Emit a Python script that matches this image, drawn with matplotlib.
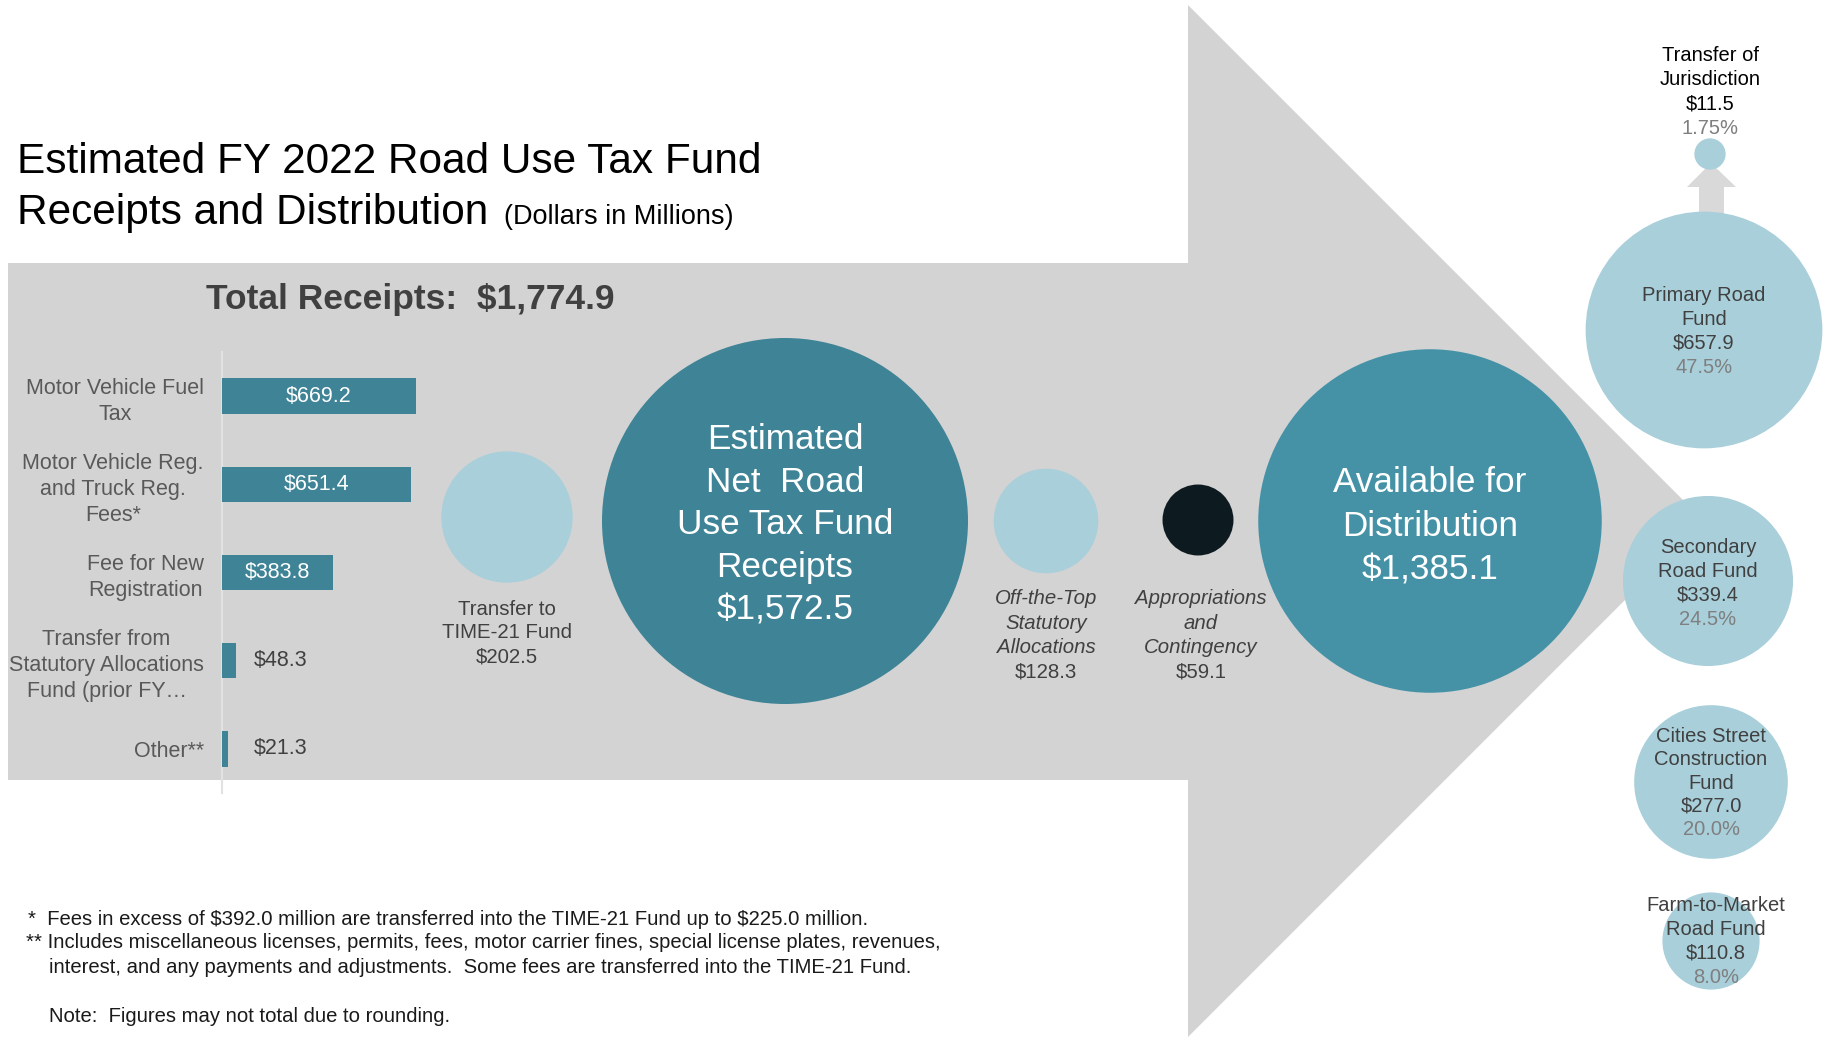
import matplotlib
matplotlib.use("Agg")
import matplotlib.pyplot as plt
from matplotlib.patches import Circle, Polygon
import numpy as np

plt.rcParams["text.parse_math"] = False

# ---------------- data (dollars in millions) ----------------
categories = ["Motor Vehicle Fuel\nTax",
              "Motor Vehicle Reg.\nand Truck Reg.\nFees*",
              "Fee for New\nRegistration",
              "Transfer from\nStatutory Allocations\nFund (prior FY\u2026",
              "Other**"]
receipts = [669.2, 651.4, 383.8, 48.3, 21.3]
total_receipts = 1774.9

time21 = 202.5
net_receipts = 1572.5
off_top = 128.3
approp = 59.1
available = 1385.1

fund_names = ["Primary Road\nFund", "Secondary\nRoad Fund",
              "Cities Street\nConstruction\nFund", "Farm-to-Market\nRoad Fund"]
fund_values = [657.9, 339.4, 277.0, 110.8]
fund_pct = [47.5, 24.5, 20.0, 8.0]
juris_value = 11.5
juris_pct = 1.75

# ---------------- styles ----------------
SANS = "Liberation Sans"

BAR = "#3E8396"
NET = "#3E8396"
AVAIL = "#4592A7"
LIGHT = "#A8CFDA"
DARK = "#0D1A1F"
GRAY = "#D3D3D3"
TXT = "#404040"
PCT = "#7F7F7F"

W, H = 1829, 1037
fig = plt.figure(figsize=(W / 100, H / 100), dpi=100)
ax = fig.add_axes([0, 0, 1, 1])
ax.set_xlim(0, W)
ax.set_ylim(H, 0)
ax.axis("off")

# circle radius ~ sqrt(value), area proportional
k = 183 / np.sqrt(net_receipts)
def rad(v):
    return k * np.sqrt(v)

# big arrow
ax.add_patch(Polygon([(8, 263), (1188, 263), (1188, 5), (1704, 521), (1188, 1037),
                      (1188, 780), (8, 780)], closed=True, fc=GRAY, ec="none", zorder=0))
# small up arrow to transfer of jurisdiction
ax.add_patch(Polygon([(1699, 215), (1699, 187), (1687, 187), (1711, 163), (1736, 187),
                      (1724, 187), (1724, 215)], closed=True, fc="#D9D9D9", ec="none", zorder=1))

def circ(x, y, v, c):
    ax.add_patch(Circle((x, y), rad(v), fc=c, ec="none", zorder=2))

circ(507, 517, time21, LIGHT)
circ(785, 521, net_receipts, NET)
circ(1046, 521, off_top, LIGHT)
circ(1198, 520, approp, DARK)
circ(1430, 521, available, AVAIL)
fund_xy = [(1704, 330), (1708, 581), (1711, 782), (1711, 941)]
for (x, y), v in zip(fund_xy, fund_values):
    circ(x, y, v, LIGHT)
circ(1710, 154, juris_value, LIGHT)

def stack(x, y0, lines, gap, size):
    for i, (s, c, st) in enumerate(lines):
        ax.text(x, y0 + i * gap, s, color=c, style=st, ha="center", va="baseline",
                fontsize=size, family=SANS, zorder=5)

def money(v):
    return "${:,.1f}".format(v)

# titles
ax.text(17, 173, "Estimated FY 2022 Road Use Tax Fund", fontsize=30.5, family=SANS,
        color="black", va="baseline")
ax.text(17, 224, "Receipts and Distribution", fontsize=30.5, family=SANS,
        color="black", va="baseline")
ax.text(504, 224, "(Dollars in Millions)", fontsize=19.5, family=SANS,
        color="black", va="baseline")
ax.text(206, 309, "Total Receipts:  " + money(total_receipts), fontsize=25.5, family=SANS,
        weight="bold", color=TXT, va="baseline")

# circle labels
stack(507, 615, [("Transfer to", TXT, "normal"), ("TIME-21 Fund", TXT, "normal"),
                 (money(time21), TXT, "normal")], 23.5, 14.7)
stack(785, 449, [("Estimated", "white", "normal"), ("Net  Road", "white", "normal"),
                 ("Use Tax Fund", "white", "normal"), ("Receipts", "white", "normal"),
                 (money(net_receipts), "white", "normal")], 42.6, 25.3)
stack(1046, 604, [("Off-the-Top", TXT, "italic"), ("Statutory", TXT, "italic"),
                  ("Allocations", TXT, "italic"), (money(off_top), TXT, "normal")], 24.6, 14.7)
stack(1201, 604, [("Appropriations", TXT, "italic"), ("and", TXT, "italic"),
                  ("Contingency", TXT, "italic"), (money(approp), TXT, "normal")], 24.6, 14.7)
stack(1430, 492, [("Available for", "white", "normal"), ("Distribution", "white", "normal"),
                  (money(available), "white", "normal")], 43.5, 25.3)
stack(1710, 61, [("Transfer of", "black", "normal"), ("Jurisdiction", "black", "normal"),
                 (money(juris_value), "black", "normal"),
                 ("{:.2f}%".format(juris_pct), PCT, "normal")], 24.3, 14.5)

fund_first = [301, 553, 742, 911]
fund_gap = [24, 24, 23.3, 24]
for (x, y), y0, g, nm, v, p in zip(fund_xy, fund_first, fund_gap, fund_names, fund_values, fund_pct):
    lines = [(s, TXT, "normal") for s in nm.split("\n")]
    lines += [(money(v), TXT, "normal"), ("{:.1f}%".format(p), PCT, "normal")]
    stack(x + (5 if nm.startswith("Farm") else 0), y0, lines, g, 14.5)

# receipts bar chart
bax = fig.add_axes([222 / W, 1 - 793 / H, 203 / W, 441 / H])
ypos = np.arange(len(receipts))
bax.barh(ypos, receipts, height=0.4, color=BAR, zorder=3)
bax.set_xlim(0, 700)
bax.set_ylim(4.5, -0.5)
bax.patch.set_alpha(0)
for s in ["top", "right", "bottom"]:
    bax.spines[s].set_visible(False)
bax.spines["left"].set_color("#E2E2E2")
bax.spines["left"].set_linewidth(1.5)
bax.set_xticks([])
bax.set_yticks(ypos)
bax.set_yticklabels(categories, family=SANS, fontsize=15.5, color="#595959",
                    multialignment="center", linespacing=1.32)
bax.tick_params(axis="y", length=0, pad=13)
for i, v in enumerate(receipts):
    if v > 200:
        bax.text(v / 2, i, money(v), color="white", ha="center", va="center",
                 family=SANS, fontsize=15.5, zorder=4)
    else:
        bax.text(max(v + 60, 108), i, money(v), color=TXT, ha="left", va="center",
                 family=SANS, fontsize=15.5, zorder=4)

# footnotes
fn = dict(fontsize=14.6, family=SANS, color="#1A1A1A", va="baseline")
ax.text(28, 925, "*  Fees in excess of $392.0 million are transferred into the TIME-21 Fund up to $225.0 million.", **fn)
ax.text(26, 948, "** Includes miscellaneous licenses, permits, fees, motor carrier fines, special license plates, revenues,", **fn)
ax.text(49, 973, "interest, and any payments and adjustments.  Some fees are transferred into the TIME-21 Fund.", **fn)
ax.text(49, 1022, "Note:  Figures may not total due to rounding.", **fn)

fig.savefig("out.png", dpi=100)
